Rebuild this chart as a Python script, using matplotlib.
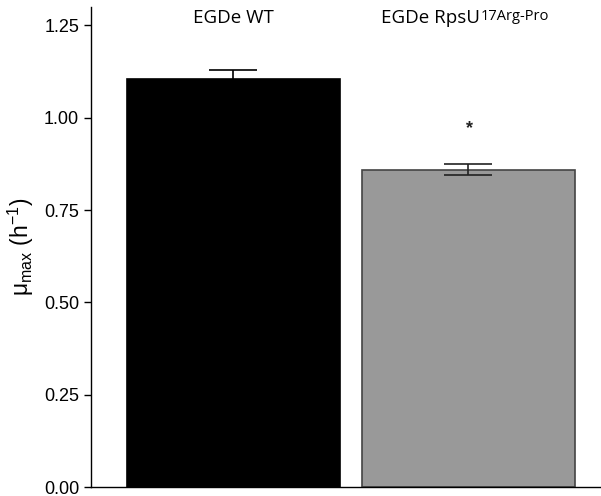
import matplotlib
matplotlib.use("Agg")
import matplotlib.pyplot as plt

strains = ["EGDe WT", "EGDe RpsU"]
strain_sup = ["", "17Arg-Pro"]
mu_max = [1.105, 0.859]
mu_err = [0.025, 0.0145]
bar_colors = ["#000000", "#999999"]
edge_colors = ["#000000", "#444444"]
significant = [False, True]
yticks = [0.00, 0.25, 0.50, 0.75, 1.00, 1.25]

plt.rcParams["font.family"] = "Liberation Sans"
plt.rcParams["mathtext.fontset"] = "custom"
plt.rcParams["mathtext.rm"] = "Liberation Sans"
plt.rcParams["mathtext.it"] = "Liberation Sans:italic"

fig = plt.figure(figsize=(6.01, 4.96), dpi=100)
ax = fig.add_axes([91 / 601, 1 - 487 / 496, 509 / 601, 480 / 496])

x = list(range(len(strains)))
ax.bar(x, mu_max, width=0.906, color=bar_colors, edgecolor=edge_colors,
       linewidth=1.2, zorder=1)
for xi, m, e in zip(x, mu_max, mu_err):
    ax.errorbar(xi, m, yerr=e, fmt="none", ecolor="#222222" if xi else "black",
                elinewidth=1.2, capsize=17, capthick=1.2, zorder=2)

for xi, m, sig in zip(x, mu_max, significant):
    if sig:
        ax.text(xi + 0.005, m + 0.113, "*", ha="center", va="center",
                fontsize=13, fontweight="bold", color="#222222")

# strain labels above the bars
for xi, name, sup in zip(x, strains, strain_sup):
    t = ax.text(xi, 1.27, name, ha="center", va="center",
                fontsize=13.5, family="Open Sans", color="black")
    if sup:
        t.set_ha("right")
        t.set_x(xi + 0.049)
        ax.annotate(sup, xy=(1, 1), xycoords=t, xytext=(0.5, 0),
                    textcoords="offset points", ha="left", va="top",
                    fontsize=10.5, family="Open Sans", color="black")

ax.set_xlim(-0.606, 1.56)
ax.set_ylim(0, 1.30)
ax.set_yticks(yticks)
ax.set_yticklabels([f"{v:.2f}" for v in yticks])
ax.set_xticks([])
ax.tick_params(axis="y", labelsize=13, length=5, width=1)
ax.spines["top"].set_visible(False)
ax.spines["right"].set_visible(False)
ax.spines["left"].set_linewidth(1)
ax.spines["bottom"].set_linewidth(1)
ax.set_ylabel("μ$_{\\mathrm{max}}$ (h$^{-1}$)", fontsize=16.5, labelpad=6)

fig.savefig("out.png", dpi=100)
